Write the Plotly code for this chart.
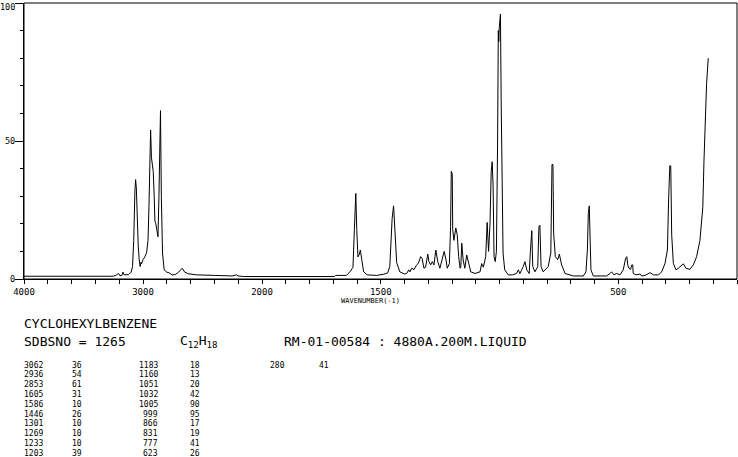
import plotly.graph_objects as go

# ---- spectrum trace (wavenumber, intensity) ----
hi_wn = [4000, 3500, 3250, 3225, 3205, 3195, 3178, 3168, 3158, 3120,
         3100, 3088, 3078, 3068, 3062, 3056, 3048, 3040, 3032, 3024,
         3018, 3012, 3000, 2985, 2970, 2958, 2950, 2943, 2936, 2929,
         2922, 2914, 2906, 2900, 2892, 2882, 2874, 2866, 2860, 2853,
         2846, 2836, 2822, 2800, 2780, 2755, 2730, 2700, 2670, 2650,
         2620, 2550, 2400, 2250, 2215, 2200, 2150, 2000]
hi_int = [1.0, 1.0, 1.0, 1.4, 2.0, 1.2, 1.3, 2.5, 1.5, 1.6,
          2.5, 4.5, 14, 32, 36, 33, 20, 12, 7, 4.5,
          6, 5.5, 7, 8, 9.5, 14, 26, 51, 54, 44,
          40, 39, 30, 21, 20, 17, 15.3, 30, 56, 61,
          30, 9.4, 3.3, 2.5, 2.2, 1.5, 1.6, 2.5, 3.9, 2.5,
          1.9, 1.5, 1.3, 1.1, 1.5, 1.1, 0.9, 0.9]

lo_wn = [2000, 1900, 1800, 1695, 1690, 1645, 1630, 1617, 1611, 1605,
         1601, 1596, 1590, 1586, 1580, 1572, 1557, 1517, 1489, 1471,
         1462, 1452, 1446, 1440, 1433, 1420, 1400, 1391, 1382, 1377,
         1370, 1360, 1349, 1342, 1332, 1326, 1318, 1311, 1302, 1297,
         1290, 1283, 1276, 1268, 1260, 1251, 1240, 1233, 1225, 1220,
         1211, 1206, 1203, 1199, 1197, 1192, 1184, 1178, 1172, 1166,
         1163, 1159, 1153, 1146, 1138, 1131, 1121, 1103, 1082, 1075,
         1068, 1058, 1052, 1046, 1040, 1035, 1031, 1027, 1023, 1018,
         1013, 1008, 1005, 1003, 1001, 999, 996, 993, 989, 985,
         978, 963, 945, 928, 921, 914, 900, 893, 885, 875,
         870, 867, 864, 860, 851, 839, 834, 830, 825, 816,
         795, 784, 779, 775, 772, 765, 755, 748, 738, 724,
         703, 689, 647, 636, 630, 626, 622, 619, 615, 605,
         549, 535, 528, 518, 507, 493, 479, 469, 464, 460,
         455, 448, 443, 439, 437, 425, 408, 401, 387, 366,
         352, 331, 317, 303, 293, 288, 283, 279, 275, 268,
         257, 247, 233, 226, 215, 198, 184, 170, 156, 144,
         139, 132, 128, 121]
lo_int = [0.9, 0.9, 0.9, 0.9, 1.3, 1.3, 2.6, 4.2, 18, 31,
          18, 8, 9, 10.5, 7, 2.6, 1.5, 1.3, 1.7, 2.2,
          4.5, 22, 26.5, 17, 6, 2.6, 1.8, 2, 3.3, 2.6,
          3.9, 3.4, 5.1, 5.6, 8.1, 7.5, 3.9, 4.3, 9, 6.3,
          5.1, 6.3, 5.1, 10.5, 6.3, 3.9, 7.5, 10, 6.9, 3.9,
          5.6, 19, 39, 38, 18, 14, 18.5, 16, 8.1, 3.9,
          4.3, 13, 6.9, 3.9, 8.7, 5.6, 2.6, 2.0, 2.6, 5.6,
          4.3, 8.1, 20.5, 10, 20, 38.9, 42.5, 34, 8.1, 6.3,
          10, 50, 90, 86, 91, 95.6, 96, 65, 21, 9.4,
          3.3, 1.5, 1.5, 2, 3.3, 2, 4.5, 6.3, 3.3, 2,
          10, 17.5, 17.5, 4.5, 2.6, 4.5, 19, 19.5, 4.5, 2.6,
          4.5, 9.4, 41.5, 41.5, 16.6, 8.1, 7, 9, 5, 2,
          1.5, 1.1, 1.1, 2.6, 10.5, 24, 26.5, 14.5, 3.3, 1.1,
          1.1, 2, 2.6, 1.5, 2, 1.5, 3.3, 7.5, 8.1, 5.1,
          3.9, 3.5, 5.1, 5.1, 2, 1.5, 1.8, 1.1, 1.3, 2.3,
          1.5, 1.5, 2.6, 5.7, 10.5, 28.6, 41, 41, 16, 5.7,
          3.3, 3.9, 5.1, 5.5, 3.9, 3.5, 5.1, 8.1, 14, 26,
          43, 62.4, 70.9, 80]

# ---- peak table ----
peak_wn = [3062, 2936, 2853, 1605, 1586, 1446, 1301, 1269, 1233, 1203,
           1183, 1160, 1051, 1032, 1005, 999, 866, 831, 777, 623,
           280]
peak_int = [36, 54, 61, 31, 10, 26, 10, 10, 10, 39,
            18, 13, 20, 42, 90, 95, 17, 19, 41, 26,
            41]

hi_minor = list(range(4000, 1999, -200))
hi_major = [4000, 3000, 2000]
lo_minor = list(range(2000, -1, -100))
lo_major = [1500, 500, 0]
y_major = [0, 50, 100]
y_minor = list(range(0, 101, 10))

compound = "CYCLOHEXYLBENZENE"
sdbs_line = "SDBSNO = 1265"
formula = "C<sub>12</sub>H<sub>18</sub>"
meta = "RM-01-00584 : 4880A.200M.LIQUID"
x_title = "WAVENUMBER(-1)"

W, H = 738, 457
L, R, T, B = 24, 1, 3, 178
PW, PH = W - L - R, H - T - B
split = 238 / PW

def fx(px):
    return (px - L) / PW

def fy(py):
    return (H - B - py) / PH

MONO = "DejaVu Sans Mono"

fig = go.Figure()
line = dict(color="black", width=1)
fig.add_trace(go.Scatter(x=hi_wn, y=hi_int, mode="lines", line=line,
                         xaxis="x", yaxis="y", showlegend=False, hoverinfo="skip"))
fig.add_trace(go.Scatter(x=lo_wn, y=lo_int, mode="lines", line=line,
                         xaxis="x2", yaxis="y", showlegend=False, hoverinfo="skip"))

tickfont = dict(family=MONO, size=9, color="black")
common_x = dict(showgrid=False, zeroline=False, showline=True, linecolor="black",
                linewidth=1, ticks="outside", ticklen=4, tickcolor="black",
                tickwidth=1, tickfont=tickfont, automargin=False, fixedrange=True)

fig.update_layout(
    width=W, height=H, autosize=False,
    margin=dict(l=L, r=R, t=T, b=B, pad=0),
    paper_bgcolor="white", plot_bgcolor="white",
    xaxis=dict(domain=[0, split], range=[4000, 2000], anchor="y",
               tickvals=hi_major, ticktext=[str(v) for v in hi_major],
               minor=dict(tickvals=hi_minor, ticks="outside", ticklen=4,
                          tickcolor="black", showgrid=False),
               **common_x),
    xaxis2=dict(domain=[split, 1], range=[2000, 0], anchor="y",
                tickvals=lo_major, ticktext=[str(v) for v in lo_major],
                minor=dict(tickvals=lo_minor, ticks="outside", ticklen=4,
                           tickcolor="black", showgrid=False),
                **common_x),
    yaxis=dict(range=[0, 100], showgrid=False, zeroline=False, showline=True,
               linecolor="black", linewidth=1, ticks="outside", ticklen=8,
               tickcolor="black", tickvals=y_major, showticklabels=False,
               automargin=False, fixedrange=True,
               minor=dict(tickvals=y_minor, ticks="outside",
                          ticklen=3, tickcolor="black", showgrid=False)),
    shapes=[dict(type="rect", xref="paper", yref="paper", x0=0, y0=0, x1=1, y1=1,
                 line=dict(color="black", width=1), layer="above")],
)

ann = []
# y tick labels placed on the y scale
for v in y_major:
    ann.append(dict(x=fx(16), y=v, xref="paper", yref="y", text=str(v),
                    showarrow=False, xanchor="right", yanchor="middle",
                    yshift=-4 if v == 100 else 0, borderpad=0,
                    font=dict(family=MONO, size=8.5, color="black")))

def text(px, py, s, size, anchor="left"):
    ann.append(dict(x=fx(px), y=fy(py), xref="paper", yref="paper", text=s,
                    showarrow=False, xanchor=anchor, yanchor="middle",
                    font=dict(family=MONO, size=size, color="black")))

text(370, 301, x_title, 7, "center")
text(22, 323, compound, 13)
text(22, 341, sdbs_line, 13)
text(178, 341, formula, 13)
text(282, 341, meta, 13)

row0, dy = 365, 9.8
for i, (w, v) in enumerate(zip(peak_wn, peak_int)):
    col, row = divmod(i, 10)
    py = row0 + row * dy
    if col == 0:
        text(22, py, str(w), 8)
        text(70, py, str(v), 8)
    elif col == 1:
        text(160, py, str(w), 8, "right")
        text(188, py, str(v), 8)
    else:
        text(287, py, str(w), 8, "right")
        text(317, py, str(v), 8)

fig.update_layout(annotations=ann)
fig.write_html("out.html", config={"displayModeBar": False},
               post_script="document.body.style.margin='0';document.body.style.padding='0';")
